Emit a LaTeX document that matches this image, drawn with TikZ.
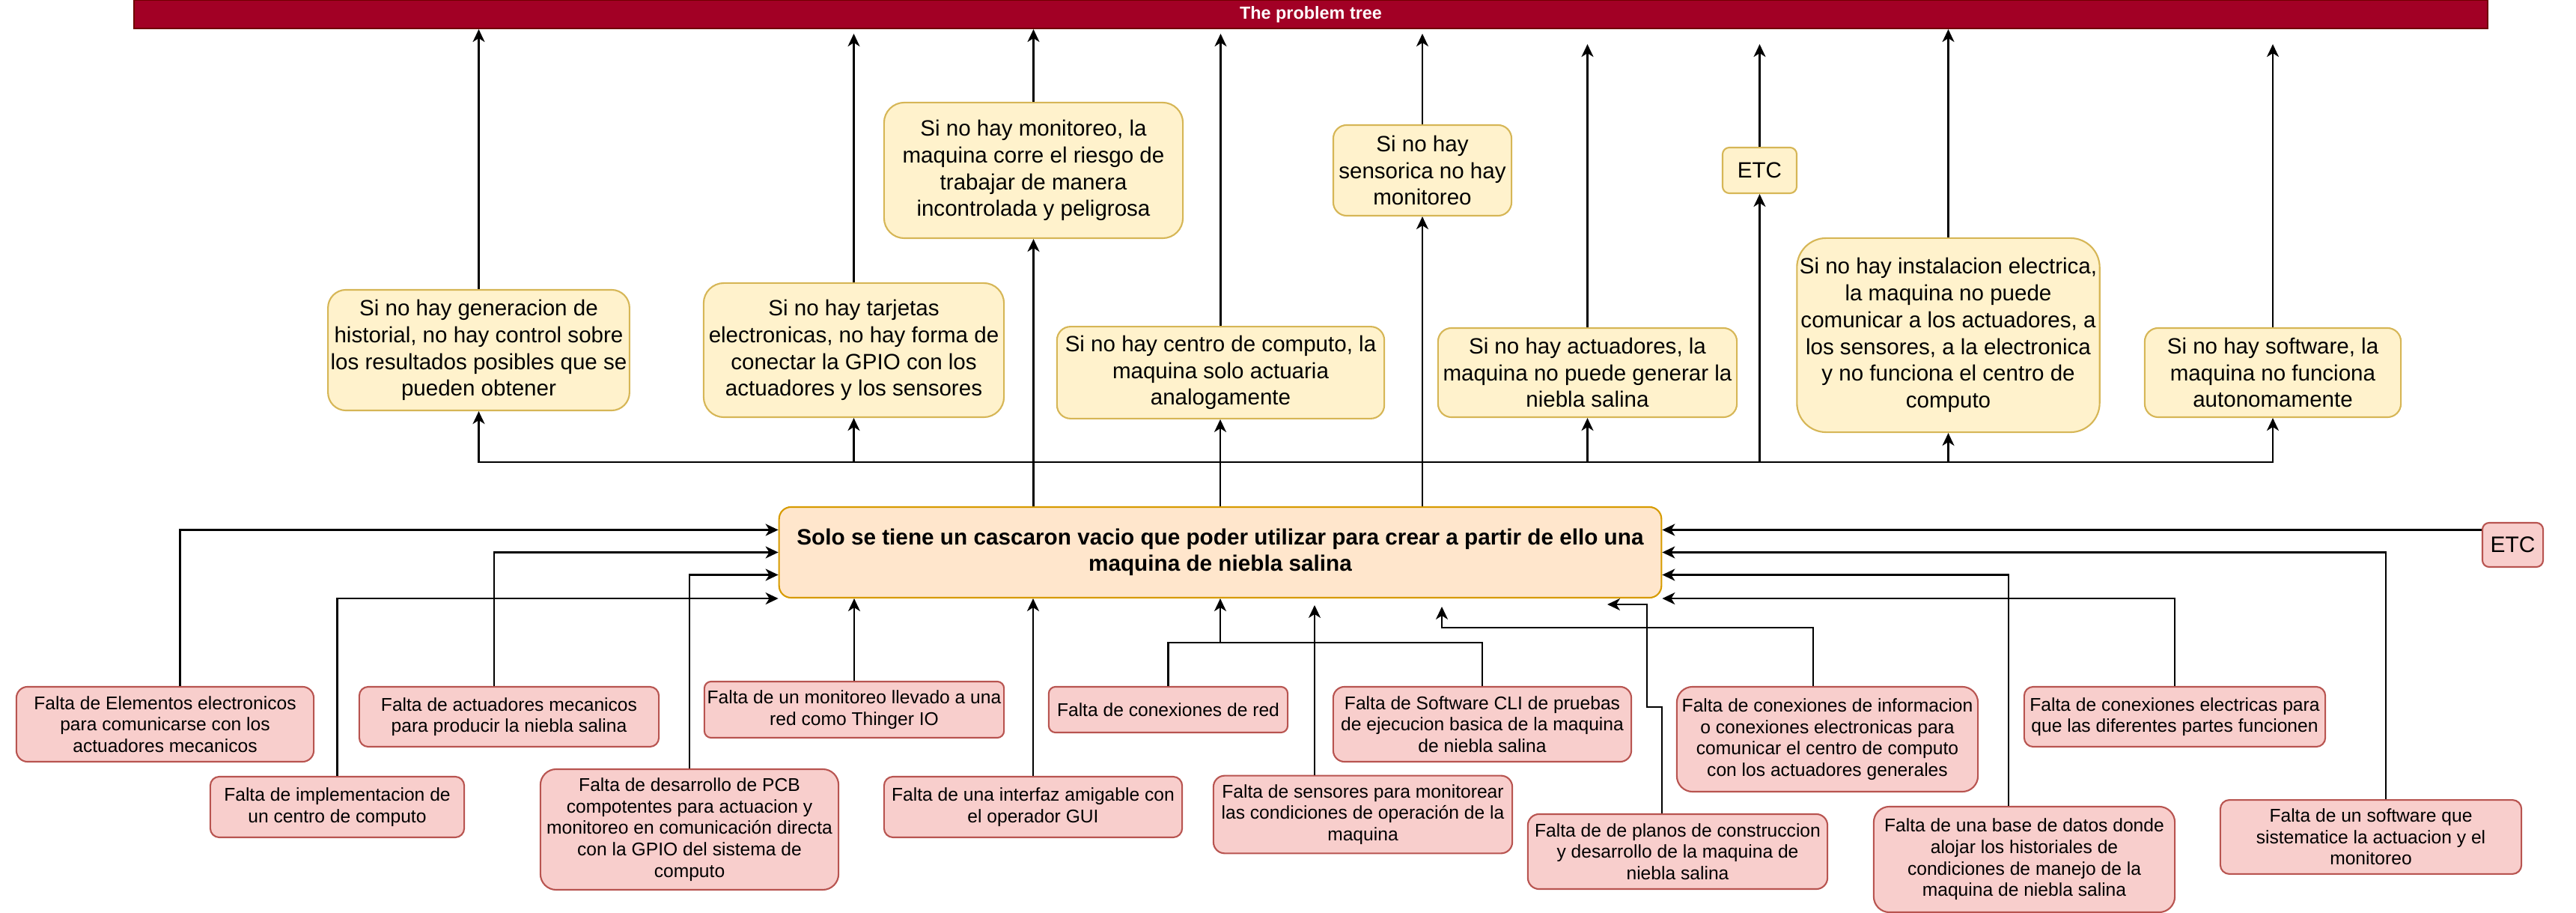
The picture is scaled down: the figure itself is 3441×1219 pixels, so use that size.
\documentclass[tikz,border=0pt]{standalone}
\usepackage{fontspec}
\setmainfont{Liberation Sans}
\usetikzlibrary{arrows.meta}
\definecolor{titlered}{HTML}{A20025}
\definecolor{titleline}{HTML}{6F0000}
\definecolor{efill}{HTML}{FFF2CC}
\definecolor{eline}{HTML}{D6B656}
\definecolor{mfill}{HTML}{FFE6CC}
\definecolor{mline}{HTML}{D79B00}
\definecolor{cfill}{HTML}{F8CECC}
\definecolor{cline}{HTML}{B85450}

\begin{document}
\begin{tikzpicture}[x=0.01cm, y=-0.01cm,
  every node/.style={align=center, inner xsep=1pt, line width=0.6pt},
  efecto/.style={draw=eline, fill=efill, rounded corners=0.18cm, font=\fontsize{8.4}{10.2}\selectfont},
  causa/.style={draw=cline, fill=cfill, rounded corners=0.12cm, font=\fontsize{7}{8.15}\selectfont},
  flecha/.style={-{Stealth[length=0.17cm,width=0.16cm,inset=0.05cm]}, line width=0.6pt},
  linea/.style={line width=0.6pt}]
  \useasboundingbox (0,0) rectangle (3441,1219);

  \node[fill=titlered, draw=titleline, minimum width=31.42cm, minimum height=0.38cm, inner sep=0pt,
        text=white, font=\bfseries\fontsize{6.66}{8}\selectfont] (titulo) at (1751,19) {The problem tree};

  \node[efecto, minimum width=3.99cm, minimum height=1.61cm, rounded corners=0.24cm] (historial) at (639.5,467.5)
    {Si no hay generacion de\\historial, no hay control sobre\\los resultados posibles que se\\pueden obtener};
  \node[efecto, minimum width=4.01cm, minimum height=1.79cm, rounded corners=0.27cm] (tarjetas) at (1140.5,467.5)
    {Si no hay tarjetas\\electronicas, no hay forma de\\conectar la GPIO con los\\actuadores y los sensores};
  \node[efecto, minimum width=3.99cm, minimum height=1.81cm, rounded corners=0.27cm] (monitoreo) at (1380.5,227.5)
    {Si no hay monitoreo, la\\maquina corre el riesgo de\\trabajar de manera\\incontrolada y peligrosa};
  \node[efecto, minimum width=4.37cm, minimum height=1.19cm] (computo) at (1630.5,497.5)
    {Si no hay centro de computo, la\\maquina solo actuaria\\analogamente};
  \node[efecto, minimum width=2.38cm, minimum height=1.21cm] (sensorica) at (1900,227.5)
    {Si no hay\\sensorica no hay\\monitoreo};
  \node[efecto, minimum width=3.99cm, minimum height=1.19cm] (actuadores) at (2120.5,497.5)
    {Si no hay actuadores, la\\maquina no puede generar la\\niebla salina};
  \node[efecto, minimum width=0.99cm, minimum height=0.61cm, rounded corners=0.09cm] (etcA) at (2350.5,227.5) {ETC};
  \node[efecto, minimum width=4.03cm, minimum height=2.59cm, rounded corners=0.39cm] (instalacion) at (2602.5,447.5)
    {Si no hay instalacion electrica,\\la maquina no puede\\comunicar a los actuadores, a\\los sensores, a la electronica\\y no funciona el centro de\\computo};
  \node[efecto, minimum width=3.42cm, minimum height=1.19cm] (software) at (3036,497.5)
    {Si no hay software, la\\maquina no funciona\\autonomamente};

  \node[draw=mline, fill=mfill, rounded corners=0.16cm, minimum width=11.78cm, minimum height=1.21cm,
        font=\bfseries\fontsize{8.45}{9.96}\selectfont] (problema) at (1630,737.5)
    {Solo se tiene un cascaron vacio que poder utilizar para crear a partir de ello una\\maquina de niebla salina};
  \node[causa, minimum width=0.81cm, minimum height=0.59cm, rounded corners=0.09cm,
        font=\fontsize{8.5}{10}\selectfont] (etcB) at (3356.5,727.5) {ETC};

  \node[causa, minimum width=3.97cm, minimum height=1cm, rounded corners=0.15cm] (elementos) at (220.5,967)
    {Falta de Elementos electronicos\\para comunicarse con los\\actuadores mecanicos};
  \node[causa, minimum width=4cm, minimum height=0.8cm] (mecanicos) at (680,957)
    {Falta de actuadores mecanicos\\para producir la niebla salina};
  \node[causa, minimum width=3.39cm, minimum height=0.81cm] (centro) at (450.5,1077.5)
    {Falta de implementacion de\\un centro de computo};
  \node[causa, minimum width=3.98cm, minimum height=1.41cm, rounded corners=0.21cm] (pcb) at (921,1107.5)
    {Falta de desarrollo de PCB\\compotentes para actuacion y\\monitoreo en comunicación directa\\con la GPIO del sistema de\\computo};
  \node[causa, minimum width=4cm, minimum height=0.61cm, rounded corners=0.09cm] (thinger) at (1141,947.5)
    {Falta de un monitoreo llevado a una\\red como Thinger IO};
  \node[causa, minimum width=3.98cm, minimum height=0.81cm] (gui) at (1380,1077.5)
    {Falta de una interfaz amigable con\\el operador GUI};
  \node[causa, minimum width=3.19cm, minimum height=0.61cm, rounded corners=0.09cm] (red) at (1560.5,947.5)
    {Falta de conexiones de red};
  \node[causa, minimum width=3.98cm, minimum height=1cm, rounded corners=0.15cm] (cli) at (1980,967)
    {Falta de Software CLI de pruebas\\de ejecucion basica de la maquina\\de niebla salina};
  \node[causa, minimum width=3.99cm, minimum height=1.01cm, rounded corners=0.15cm] (sensores) at (1820.5,1087.5)
    {Falta de sensores para monitorear\\las condiciones de operación de la\\maquina};
  \node[causa, minimum width=4.02cm, minimum height=1.4cm, rounded corners=0.21cm] (info) at (2441,987)
    {Falta de conexiones de informacion\\o conexiones electronicas para\\comunicar el centro de computo\\con los actuadores generales};
  \node[causa, minimum width=4cm, minimum height=1cm, rounded corners=0.15cm] (planos) at (2241,1137)
    {Falta de de planos de construccion\\y desarrollo de la maquina de\\niebla salina};
  \node[causa, minimum width=4.02cm, minimum height=0.8cm] (electricas) at (2905,957)
    {Falta de conexiones electricas para\\que las diferentes partes funcionen};
  \node[causa, minimum width=4.02cm, minimum height=1.41cm, rounded corners=0.21cm] (basedatos) at (2704,1147.5)
    {Falta de una base de datos donde\\alojar los historiales de\\condiciones de manejo de la\\maquina de niebla salina};
  \node[causa, minimum width=4.02cm, minimum height=0.81cm] (sistematice) at (3167,1117.5)
    {Falta de un software que\\sistematice la actuacion y el\\monitoreo};

  \coordinate (tope1) at (0,45);
  \coordinate (tope2) at (0,59);
  \coordinate (bus) at (1630,617);
  \coordinate (pw1) at ([yshift=0.3cm]problema.west);
  \coordinate (pw3) at ([yshift=-0.3cm]problema.west);
  \coordinate (pe1) at ([yshift=0.3cm]problema.east);
  \coordinate (pe3) at ([yshift=-0.3cm]problema.east);
  \coordinate (nodored) at (1630,858);
  \coordinate (finsens) at (1756,808);
  \coordinate (codo) at (1926,838);
  \coordinate (fininfo) at (1926,810);
  \coordinate (codoplanos) at (2200,944);
  \coordinate (finplanos) at (2147,807);

  \draw[flecha] (historial.north) -- (historial.north |- titulo.south);
  \draw[flecha] (tarjetas.north) -- (tarjetas.north |- tope1);
  \draw[flecha] (monitoreo.north) -- (monitoreo.north |- titulo.south);
  \draw[flecha] (computo.north) -- (computo.north |- tope1);
  \draw[flecha] (sensorica.north) -- (sensorica.north |- tope1);
  \draw[flecha] (actuadores.north) -- (actuadores.north |- tope2);
  \draw[flecha] (etcA.north) -- (etcA.north |- tope2);
  \draw[flecha] (instalacion.north) -- (instalacion.north |- titulo.south);
  \draw[flecha] (software.north) -- (software.north |- tope2);

  \draw[flecha] (problema.north) -- (problema.north |- computo.south);
  \draw[flecha] (bus) -| (historial.south);
  \draw[flecha] (bus) -| (tarjetas.south);
  \draw[flecha] (bus) -| (actuadores.south);
  \draw[flecha] (bus) -| (etcA.south);
  \draw[flecha] (bus) -| (instalacion.south);
  \draw[flecha] (bus) -| (software.south);
  \draw[flecha] (problema.north -| monitoreo.south) -- (monitoreo.south);
  \draw[flecha] (problema.north -| sensorica.south) -- (sensorica.south);

  \draw[flecha] ([xshift=0.2cm]elementos.north) |- (pw1);
  \draw[flecha] ([xshift=-0.2cm]mecanicos.north) |- (problema.west);
  \draw[flecha] (pcb.north) |- (pw3);
  \draw[flecha] (centro.north) |- (problema.south west);
  \draw[flecha] (thinger.north) -- (thinger.north |- problema.south);
  \draw[flecha] (gui.north) -- (gui.north |- problema.south);
  \draw[flecha] (red.north) |- (nodored) -- (nodored |- problema.south);
  \draw[linea] (cli.north) |- (nodored);
  \draw[flecha] (finsens |- sensores.north) -- (finsens);
  \draw[flecha] ([xshift=-0.19cm]info.north) |- (codo) -- (fininfo);
  \draw[flecha] ([xshift=-0.21cm]planos.north) |- (codoplanos) |- (finplanos);

  \draw[flecha] (pe1 -| etcB.west) -- (pe1);
  \draw[flecha] ([xshift=0.2cm]sistematice.north) |- (problema.east);
  \draw[flecha] ([xshift=-0.21cm]basedatos.north) |- (pe3);
  \draw[flecha] (electricas.north) |- (problema.south east);
\end{tikzpicture}
\end{document}
